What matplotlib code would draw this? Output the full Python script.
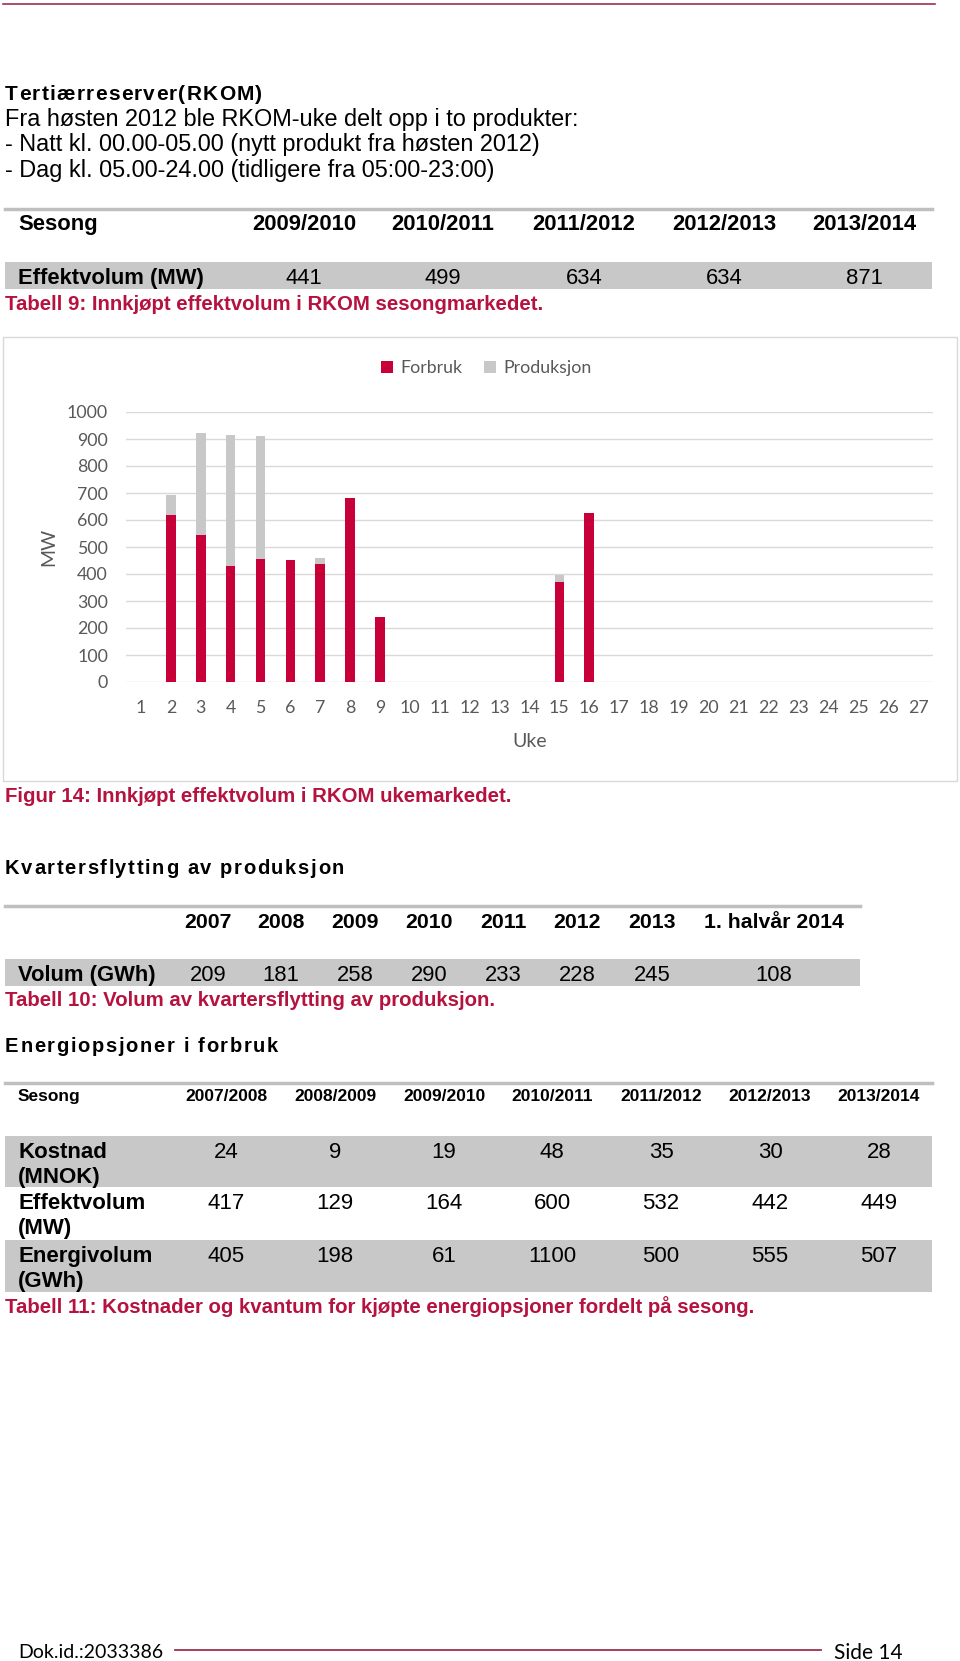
import matplotlib
matplotlib.use('Agg')
import matplotlib.pyplot as plt
from matplotlib.lines import Line2D
from matplotlib.patches import Rectangle

W, H = 960, 1661
SANS = ['Liberation Sans', 'DejaVu Sans']
CHART = ['Lato', 'DejaVu Sans']
RED = '#C8003A'
GRAY = '#C8C8C8'
CAP_RED = '#B5123F'
LINE_RED = '#9E2F4F'

# Intro text
intro_lines = ['Fra høsten 2012 ble RKOM-uke delt opp i to produkter:',
               '- Natt kl. 00.00-05.00 (nytt produkt fra høsten 2012)',
               '- Dag kl. 05.00-24.00 (tidligere fra 05:00-23:00)']

# Tabell 9
seasons_rkom = ['2009/2010', '2010/2011', '2011/2012', '2012/2013', '2013/2014']
effekt_rkom = [441, 499, 634, 634, 871]

# Figur 14
weeks = list(range(1, 28))
forbruk = [0, 618, 544, 429, 455, 451, 436, 683, 240, 0, 0, 0, 0, 0,
           370, 627, 0, 0, 0, 0, 0, 0, 0, 0, 0, 0, 0]
produksjon = [0, 76, 380, 485, 457, 0, 24, 0, 0, 0, 0, 0, 0, 0,
              28, 0, 0, 0, 0, 0, 0, 0, 0, 0, 0, 0, 0]

# Tabell 10
years_kf = ['2007', '2008', '2009', '2010', '2011', '2012', '2013', '1. halvår 2014']
volum_kf = [209, 181, 258, 290, 233, 228, 245, 108]

# Tabell 11
seasons_eo = ['2007/2008', '2008/2009', '2009/2010', '2010/2011',
              '2011/2012', '2012/2013', '2013/2014']
kostnad = [24, 9, 19, 48, 35, 30, 28]
effektvolum = [417, 129, 164, 600, 532, 442, 449]
energivolum = [405, 198, 61, 1100, 500, 555, 507]

fig = plt.figure(figsize=(W / 100, H / 100), dpi=100)
renderer = fig.canvas.get_renderer()


def fx(x):
    return x / W


def fy(y):
    return 1 - y / H


def txt(x, y, s, size=16, weight='normal', color='black', ha='left', family=SANS):
    return fig.text(fx(x), fy(y), s, fontsize=size, fontweight=weight, color=color,
                    ha=ha, va='center_baseline', family=family)


def hline(x0, x1, y, color, lw):
    fig.add_artist(Line2D([fx(x0), fx(x1)], [fy(y), fy(y)], color=color, lw=lw,
                          transform=fig.transFigure))


def box(x0, y0, x1, y1, fc, ec='none', lw=0):
    fig.add_artist(Rectangle((fx(x0), fy(y1)), fx(x1) - fx(x0), fy(y0) - fy(y1),
                             facecolor=fc, edgecolor=ec, lw=lw,
                             transform=fig.transFigure, zorder=0))


# bold heading with letter spacing, stretched to end at x_end
def spaced(x, y, s, size, x_end):
    widths = []
    for ch in s:
        t = fig.text(0, 0, ch, fontsize=size, fontweight='bold', family=SANS)
        widths.append(t.get_window_extent(renderer).width)
        t.remove()
    track = (x_end - x - sum(widths)) / (len(s) - 1)
    for ch, w in zip(s, widths):
        txt(x, y, ch, size=size, weight='bold')
        x += w + track


# page header line
hline(3, 935, 4, LINE_RED, 1.2)

# RKOM intro
spaced(5, 92, 'Tertiærreserver(RKOM)', 15, 262)
for i, line in enumerate(intro_lines):
    txt(5, 117 + i * 25.5, line, size=16.9)

# Tabell 9
col9 = [304, 443, 584, 724, 864]
hline(5, 932, 209, '#BFBFBF', 2.5)
txt(18, 222, 'Sesong', size=15.8, weight='bold')
for x, s in zip(col9, seasons_rkom):
    txt(x, 222, s, size=15.8, weight='bold', ha='center')
box(5, 262, 932, 289, GRAY)
txt(18, 276, 'Effektvolum (MW)', size=15.8, weight='bold')
for x, v in zip(col9, effekt_rkom):
    txt(x, 276, str(v), size=15.8, ha='center')
txt(5, 303, 'Tabell 9: Innkjøpt effektvolum i RKOM sesongmarkedet.', size=14.7,
    weight='bold', color=CAP_RED)

# Figur 14 chart
box(3, 337, 957, 781, 'white', ec='#D9D9D9', lw=1)
ax = fig.add_axes([fx(126), fy(682), fx(933) - fx(126), fy(412) - fy(682)])
ax.bar(weeks, forbruk, width=0.32, color=RED, label='Forbruk', zorder=3)
ax.bar(weeks, produksjon, bottom=forbruk, width=0.32, color=GRAY,
       label='Produksjon', zorder=3)
ax.set_xlim(0.5, 27.5)
ax.set_ylim(0, 1000)
ax.set_yticks(range(0, 1001, 100))
ax.set_xticks(weeks)
ax.grid(axis='y', color='#D9D9D9', lw=1, zorder=0)
ax.set_axisbelow(True)
for sp in ax.spines.values():
    sp.set_visible(False)
ax.tick_params(axis='y', length=0, labelsize=12.8, labelcolor='#595959', pad=13)
ax.tick_params(axis='x', length=0, labelsize=12.8, labelcolor='#595959', pad=13)
for lab in ax.get_xticklabels() + ax.get_yticklabels():
    lab.set_family(CHART)
ax.set_xlabel('Uke', fontsize=14, color='#595959', family=CHART)
ax.set_ylabel('MW', fontsize=14, color='#595959', family=CHART)
ax.xaxis.set_label_coords(0.5, -0.19)
ax.yaxis.set_label_coords(-0.085, 0.5)
ax.patch.set_alpha(0)
fig.legend(loc='center', bbox_to_anchor=(fx(486), fy(368)), ncol=2, frameon=False,
           handlelength=0.7, handleheight=0.7, handletextpad=0.4, columnspacing=1.2,
           prop={'family': CHART, 'size': 12.8}, labelcolor='#595959')
txt(5, 795, 'Figur 14: Innkjøpt effektvolum i RKOM ukemarkedet.', size=14.7,
    weight='bold', color=CAP_RED)

# Tabell 10
spaced(5, 867, 'Kvartersflytting av produksjon', 14.5, 344)
col10 = [208, 281, 355, 429, 503, 577, 652, 774]
hline(5, 860, 906, '#BFBFBF', 2.5)
for x, s in zip(col10, years_kf):
    txt(x, 920, s, size=15.3, weight='bold', ha='center')
box(5, 959, 860, 986, GRAY)
txt(18, 973, 'Volum (GWh)', size=15.8, weight='bold')
for x, v in zip(col10, volum_kf):
    txt(x, 973, str(v), size=15.8, ha='center')
txt(5, 998, 'Tabell 10: Volum av kvartersflytting av produksjon.', size=14.7,
    weight='bold', color=CAP_RED)

# Tabell 11
spaced(5, 1045, 'Energiopsjoner i forbruk', 14.5, 278)
col11 = [226, 335, 444, 552, 661, 770, 879]
hline(5, 932, 1083, '#BFBFBF', 2.5)
txt(18, 1095, 'Sesong', size=12.5, weight='bold')
for x, s in zip(col11, seasons_eo):
    txt(x, 1095, s, size=12.5, weight='bold', ha='center')
rows = [('Kostnad', '(MNOK)', kostnad, 1136, GRAY),
        ('Effektvolum', '(MW)', effektvolum, 1187, 'white'),
        ('Energivolum', '(GWh)', energivolum, 1240, GRAY)]
for name, unit, vals, top, fc in rows:
    bottom = top + 52
    box(5, top, 932, bottom, fc)
    txt(18, top + 14, name, size=16, weight='bold')
    txt(18, top + 39, unit, size=16, weight='bold')
    for x, v in zip(col11, vals):
        txt(x, top + 14, str(v), size=16, ha='center')
txt(5, 1305, 'Tabell 11: Kostnader og kvantum for kjøpte energiopsjoner fordelt på sesong.',
    size=14.7, weight='bold', color=CAP_RED)

# footer
txt(18, 1651, 'Dok.id.:2033386', size=14, family=CHART)
hline(175, 821, 1650, LINE_RED, 1.3)
txt(834, 1651, 'Side 14', size=15, family=CHART)

fig.savefig('out.png', dpi=100)
